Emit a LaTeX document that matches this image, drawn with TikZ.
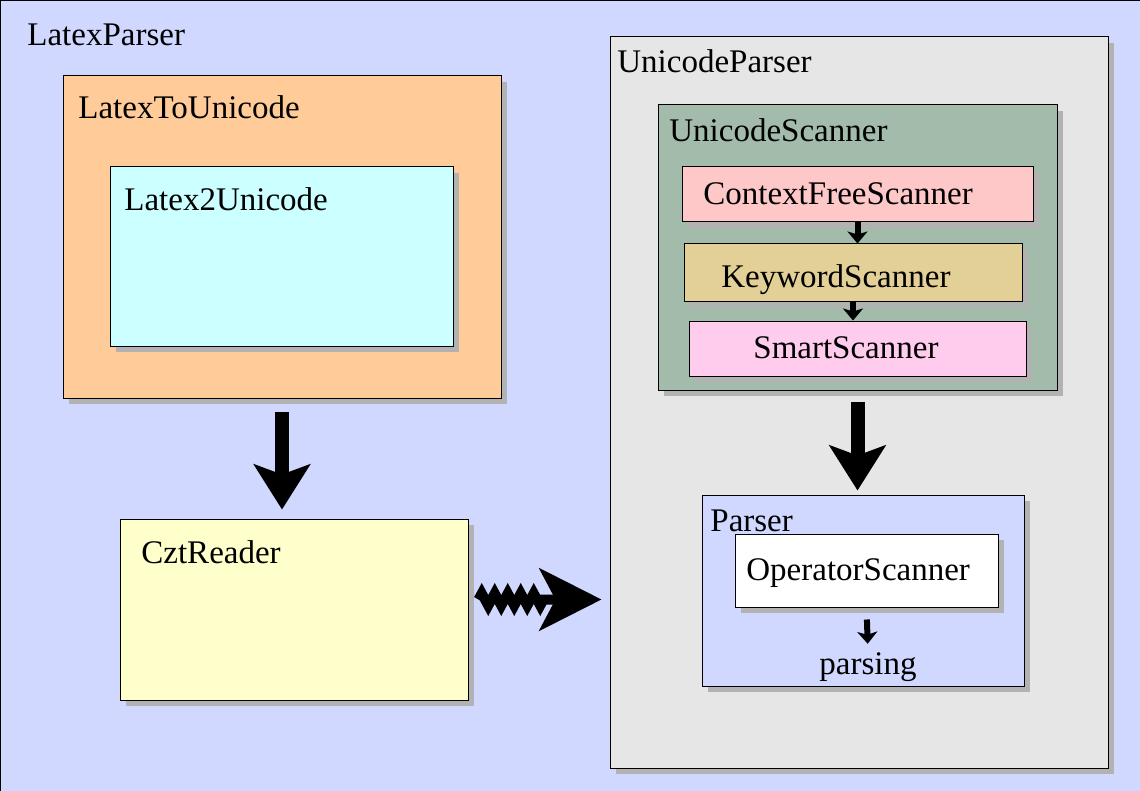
\documentclass[tikz,border=0pt]{standalone}
\usepackage{fontspec}
\setmainfont{Liberation Serif}
\usetikzlibrary{positioning,arrows.meta,fit,shadows,decorations.pathmorphing}

\definecolor{parserblue}{RGB}{208,216,255}
\definecolor{peach}{RGB}{255,204,153}
\definecolor{palecyan}{RGB}{204,255,255}
\definecolor{paleyellow}{RGB}{255,255,204}
\definecolor{panelgray}{RGB}{230,230,230}
\definecolor{scangreen}{RGB}{163,187,170}
\definecolor{scanrose}{RGB}{255,200,200}
\definecolor{scankhaki}{RGB}{226,208,150}
\definecolor{scanpink}{RGB}{255,204,238}

\begin{document}
\begin{tikzpicture}[
  x=0.5pt, y=-0.5pt,
  font=\fontsize{16.5}{20}\selectfont,
  panel/.style={draw, line width=0.5pt, inner sep=0pt,
    drop shadow={shadow xshift=3pt, shadow yshift=-3pt, fill=black!30, opacity=1}},
  caption/.style={anchor=base west, inner sep=0pt},
  bigarrow/.style={-{Stealth[length=22.5pt, width=28pt, inset=5pt]}, line width=7pt},
  smallarrow/.style={-{Stealth[length=6pt, width=10pt, inset=1.5pt]}, line width=3pt},
  wavyarrow/.style={-{Stealth[length=31pt, width=31pt, inset=8pt]}, line width=5pt,
    line join=miter, decorate,
    decoration={zigzag, segment length=6.5pt, amplitude=3pt, post length=30pt}}
]
\useasboundingbox (0,0) rectangle (1140,791);

% Outer frame
\node[fill=parserblue, inner sep=0pt, fit={(0,0) (1140,791)}] (latexparser) {};
\draw[line width=1.5pt] (latexparser.south west) |- (latexparser.north east);
\node[caption] (latexparserlabel) at (27,46) {LatexParser};

% Left side: LaTeX to Unicode
\node[panel, fill=peach, fit={(63,76) (501,398)}] (l2u) {};
\node[caption] (l2ulabel) at (78,119) {LatexToUnicode};
\node[panel, fill=palecyan, fit={(110,167) (453,346)}] (latex2unicode) {};
\node[caption] (latex2unicodelabel) at (124,211) {Latex2Unicode};

\node[panel, fill=paleyellow, fit={(120,519) (468,700)}] (czt) {};
\node[caption] (cztlabel) at (141,563) {CztReader};

% Right side: Unicode parser
\node[panel, fill=panelgray, fit={(610,37) (1108,768)}] (uparser) {};
\node[caption] (uparserlabel) at (617,73) {UnicodeParser};

\node[panel, fill=scangreen, fit={(658,105) (1057,390)}] (uscan) {};
\node[caption] (uscanlabel) at (669,142) {UnicodeScanner};
\node[panel, fill=scanrose, fit={(682,167) (1033,222)}] (cfs) {};
\node[caption] (cfslabel) at (703,205) {ContextFreeScanner};
\node[panel, fill=scankhaki, fit={(684,244) (1022,301)}] (kws) {};
\node[caption] (kwslabel) at (721,287) {KeywordScanner};
\node[panel, fill=scanpink, fit={(689,321) (1026,376)}] (smart) {};
\node[caption] (smartlabel) at (753,358) {SmartScanner};

\node[panel, fill=parserblue, fit={(702,495) (1024,686)}] (parser) {};
\node[caption] (parserlabel) at (710,531) {Parser};
\node[panel, fill=white, fit={(735,534) (998,607)}] (ops) {};
\node[caption] (opslabel) at (746,580) {OperatorScanner};
\node[caption] (parsing) at (819,674) {parsing};

% Arrows
\draw[bigarrow, shorten <=6.5pt, shorten >=4.5pt] (l2u.south) -- (czt.north -| l2u.south);
\draw[bigarrow, shorten <=5.5pt, shorten >=2pt] (uscan.south) -- (parser.north -| uscan.south);
\draw[smallarrow] (cfs.south) -- (kws.north -| cfs.south);
\draw[smallarrow] (kws.south) -- (smart.north -| kws.south);
\draw[smallarrow, shorten <=6pt, shorten >=4pt] (ops.south) -- (parsing.north);
\draw[wavyarrow, shorten >=4pt] ([xshift=5pt, yshift=5pt]czt.east) -- ([yshift=5pt]czt.east -| uparser.west);

\end{tikzpicture}
\end{document}
